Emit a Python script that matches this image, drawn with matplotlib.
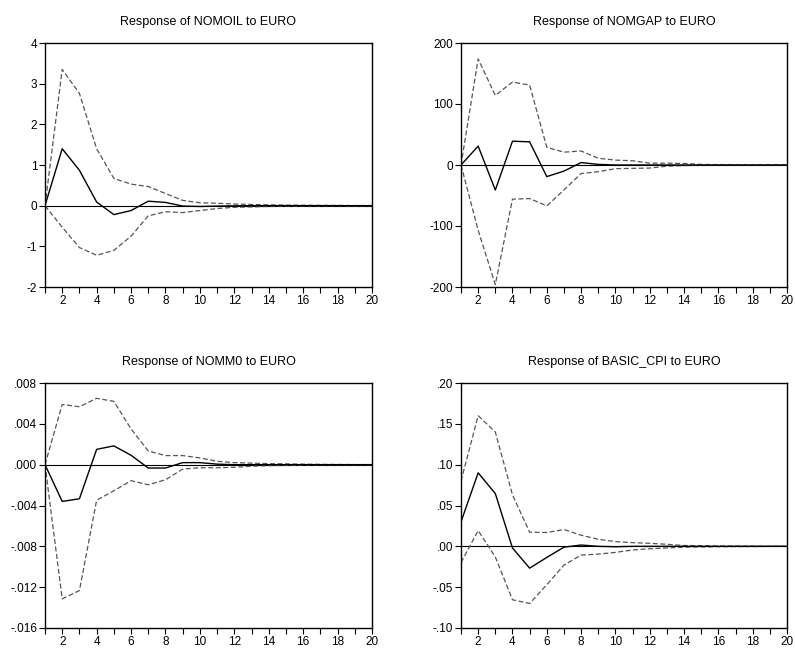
import matplotlib
matplotlib.use("Agg")
import matplotlib.pyplot as plt
from matplotlib.ticker import FuncFormatter

plt.rcParams['font.family'] = ['Liberation Sans', 'DejaVu Sans']

# horizon 1..20
periods = list(range(1, 21))

# Response of NOMOIL to EURO
nomoil_resp = [0, 1.40, 0.87, 0.09, -0.22, -0.12, 0.11, 0.08, -0.01, -0.02,
               -0.01, -0.005, 0, 0, 0, 0, 0, 0, 0, 0]
nomoil_up = [0, 3.35, 2.76, 1.40, 0.67, 0.53, 0.47, 0.30, 0.13, 0.07,
             0.06, 0.04, 0.03, 0.02, 0.015, 0.01, 0.008, 0.005, 0.003, 0.002]
nomoil_lo = [0, -0.53, -1.03, -1.22, -1.10, -0.75, -0.25, -0.15, -0.17, -0.12,
             -0.07, -0.04, -0.03, -0.02, -0.015, -0.01, -0.008, -0.005, -0.003, -0.002]

# Response of NOMGAP to EURO
nomgap_resp = [0, 31, -41, 39, 38, -19, -10, 4, 1, 0,
               0, 0, 0, 0, 0, 0, 0, 0, 0, 0]
nomgap_up = [0, 174, 114, 136, 131, 29, 21, 23, 11, 8,
             7, 3, 3, 2.5, 1, 0.5, 0.3, 0.2, 0.1, 0.1]
nomgap_lo = [0, -107, -196, -56, -55, -67, -41, -14, -11, -6,
             -5.5, -5, -2, -1, -0.5, -0.3, -0.2, -0.1, -0.1, -0.1]

# Response of NOMM0 to EURO
nomm0_resp = [0, -0.0036, -0.00334, 0.0015, 0.00184, 0.00092, -0.00033, -0.00033, 0.0002, 0.0002,
              0.00005, 0, 0, 0, 0, 0, 0, 0, 0, 0]
nomm0_up = [0, 0.0059, 0.00567, 0.0065, 0.0062, 0.0035, 0.00134, 0.00089, 0.00089, 0.00066,
            0.00033, 0.0002, 0.00015, 0.0001, 0.00008, 0.00005, 0.00003, 0.00002, 0.00001, 0.00001]
nomm0_lo = [0, -0.01315, -0.01233, -0.00348, -0.00256, -0.00157, -0.00197, -0.00148, -0.00043, -0.0003,
            -0.0003, -0.00026, -0.00015, -0.0001, -0.00008, -0.00005, -0.00003, -0.00002, -0.00001, -0.00001]

# Response of BASIC_CPI to EURO
cpi_resp = [0.030, 0.090, 0.0646, -0.002, -0.0267, -0.0136, -0.001, 0.0016, 0, -0.0005,
            0, 0, 0, 0, 0, 0, 0, 0, 0, 0]
cpi_up = [0.080, 0.160, 0.140, 0.063, 0.0173, 0.0169, 0.0206, 0.0136, 0.0086, 0.0058,
          0.0045, 0.0037, 0.0025, 0.001, 0.0008, 0.0005, 0.0003, 0.0002, 0.0001, 0.0001]
cpi_lo = [-0.0198, 0.0193, -0.013, -0.0654, -0.070, -0.047, -0.023, -0.0107, -0.0095, -0.0074,
          -0.0045, -0.0029, -0.002, -0.001, -0.0008, -0.0005, -0.0003, -0.0002, -0.0001, -0.0001]

panels = [
    ("Response of NOMOIL to EURO", nomoil_resp, nomoil_up, nomoil_lo, (-2, 4), [-2, -1, 0, 1, 2, 3, 4], 0),
    ("Response of NOMGAP to EURO", nomgap_resp, nomgap_up, nomgap_lo, (-200, 200), [-200, -100, 0, 100, 200], 0),
    ("Response of NOMM0 to EURO", nomm0_resp, nomm0_up, nomm0_lo, (-0.016, 0.008),
     [-0.016, -0.012, -0.008, -0.004, 0.0, 0.004, 0.008], 3),
    ("Response of BASIC_CPI to EURO", cpi_resp, cpi_up, cpi_lo, (-0.10, 0.20),
     [-0.10, -0.05, 0.0, 0.05, 0.10, 0.15, 0.20], 2),
]

# axes boxes in pixels: left, top, right, bottom
W, H = 795, 650
boxes = [(45, 43, 372, 287), (461, 43, 787, 287),
         (45, 383, 372, 628), (461, 383, 787, 628)]


def make_fmt(dec):
    def f(v, pos):
        if dec == 0:
            return "%d" % round(v)
        s = ("%." + str(dec) + "f") % v
        s = s.replace("0.", ".", 1)
        if s.startswith("-.") and float(s) == 0:
            s = s[1:]
        return s
    return FuncFormatter(f)


fig = plt.figure(figsize=(W / 100, H / 100), dpi=100)

for (title, resp, up, lo, ylim, yt, dec), (l, t, r, b) in zip(panels, boxes):
    ax = fig.add_axes([l / W, 1 - b / H, (r - l) / W, (b - t) / H])
    ax.axhline(0, color='black', lw=0.8)
    ax.plot(periods, up, color='#555555', lw=0.9, dashes=(4, 2))
    ax.plot(periods, lo, color='#555555', lw=0.9, dashes=(4, 2))
    ax.plot(periods, resp, color='black', lw=1.0)
    ax.set_xlim(1, 20)
    ax.set_ylim(*ylim)
    ax.set_yticks(yt)
    ax.yaxis.set_major_formatter(make_fmt(dec))
    ax.set_xticks(periods)
    ax.set_xticklabels([str(p) if p % 2 == 0 else "" for p in periods])
    ax.tick_params(direction='out', length=4, width=0.8, labelsize=8.5, pad=1.5)
    for s in ax.spines.values():
        s.set_linewidth(1.0)
    ax.set_title(title, fontsize=9, pad=13)

fig.savefig("out.png", dpi=100)
